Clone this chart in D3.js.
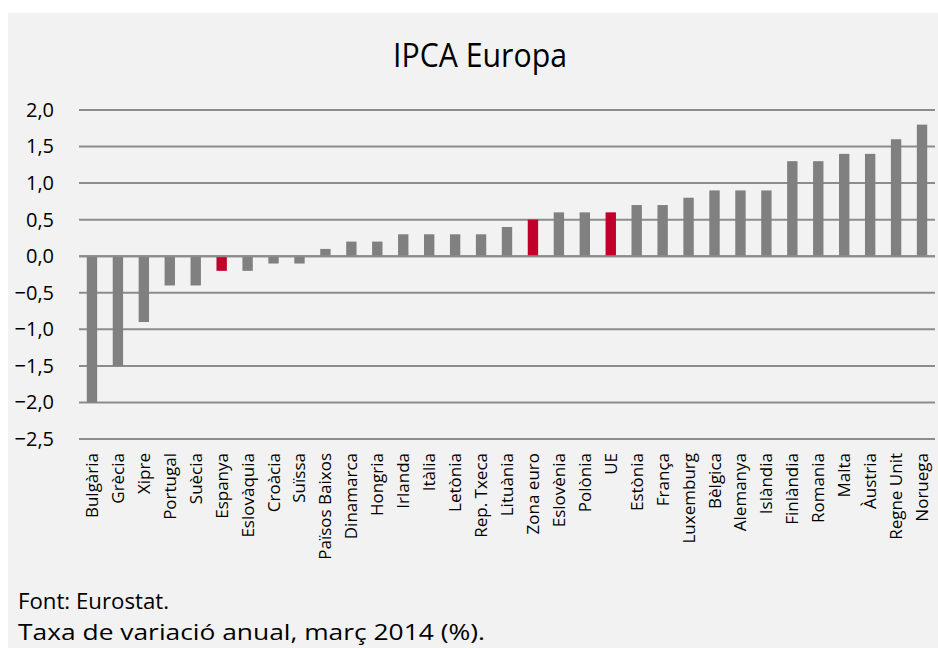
<!DOCTYPE html>
<html>
<head>
<meta charset="utf-8">
<script src="https://cdn.jsdelivr.net/npm/d3@7"></script>
<style>
  body { margin: 0; background: #fff; }
  svg text { font-family: "Open Sans", sans-serif; fill: #000; }
</style>
</head>
<body>
<div id="chart"></div>
<script>
// Taxa de variació anual de l'IPCA, març 2014 (%)
const countries = ["Bulgària", "Grècia", "Xipre", "Portugal", "Suècia", "Espanya", "Eslovàquia",
  "Croàcia", "Suïssa", "Països Baixos", "Dinamarca", "Hongria", "Irlanda", "Itàlia", "Letònia",
  "Rep. Txeca", "Lituània", "Zona euro", "Eslovènia", "Polònia", "UE", "Estònia", "França",
  "Luxemburg", "Bèlgica", "Alemanya", "Islàndia", "Finlàndia", "Romania", "Malta", "Àustria",
  "Regne Unit", "Noruega"];
const values = [-2.0, -1.5, -0.9, -0.4, -0.4, -0.2, -0.2, -0.1, -0.1, 0.1, 0.2, 0.2, 0.3, 0.3, 0.3,
  0.3, 0.4, 0.5, 0.6, 0.6, 0.6, 0.7, 0.7, 0.8, 0.9, 0.9, 0.9, 1.3, 1.3, 1.4, 1.4, 1.6, 1.8];
const highlighted = ["Espanya", "Zona euro", "UE"];
const yTicks = [-2.5, -2.0, -1.5, -1.0, -0.5, 0, 0.5, 1.0, 1.5, 2.0];

const width = 938, height = 648;
const margin = {top: 110, right: 3, bottom: 209, left: 79};

const data = countries.map((c, i) => ({name: c, value: values[i]}));

const svg = d3.select("#chart").append("svg")
    .attr("width", width)
    .attr("height", height);

// gray panel
svg.append("rect")
    .attr("x", 8).attr("y", 13)
    .attr("width", width - 8).attr("height", height - 13)
    .attr("fill", "#f2f2f2");

const x = d3.scaleBand()
    .domain(countries)
    .range([margin.left, width - margin.right])
    .paddingInner(0.6)
    .paddingOuter(0.3);

const y = d3.scaleLinear()
    .domain([-2.5, 2.0])
    .range([height - margin.bottom, margin.top]);

// gridlines
svg.append("g")
    .selectAll("line")
    .data(yTicks)
    .join("line")
    .attr("x1", margin.left)
    .attr("x2", width - margin.right)
    .attr("y1", d => y(d))
    .attr("y2", d => y(d))
    .attr("stroke", "#8c8c8c")
    .attr("stroke-width", 2);

// y axis labels
svg.append("g")
    .attr("transform", "translate(" + margin.left + ",0)")
    .call(d3.axisLeft(y)
      .tickValues(yTicks)
      .tickSize(0)
      .tickPadding(25)
      .tickFormat(d => d3.format(".1f")(d).replace(".", ",").replace("-", "–")))
    .call(g => g.select(".domain").remove())
    .selectAll("text")
    .style("font-size", "20px")
    .style("font-family", "'Open Sans', sans-serif")
    .attr("fill", "#000");

// bars
svg.append("g")
    .selectAll("rect")
    .data(data)
    .join("rect")
    .attr("x", d => x(d.name))
    .attr("width", x.bandwidth())
    .attr("y", d => y(Math.max(0, d.value)))
    .attr("height", d => Math.abs(y(d.value) - y(0)))
    .attr("fill", d => highlighted.includes(d.name) ? "#c0002b" : "#808080");

// zero line on top
svg.append("line")
    .attr("x1", margin.left)
    .attr("x2", width - margin.right)
    .attr("y1", y(0)).attr("y2", y(0))
    .attr("stroke", "#8c8c8c")
    .attr("stroke-width", 2);

// category labels
svg.append("g")
    .selectAll("text")
    .data(data)
    .join("text")
    .attr("transform", d => "translate(" + (x(d.name) + x.bandwidth() / 2 + 6) + "," + 453 + ") rotate(-90)")
    .attr("text-anchor", "end")
    .style("font-size", "17px")
    .text(d => d.name);

// title
svg.append("text")
    .attr("x", 393)
    .attr("y", 67)
    .attr("textLength", 174)
    .attr("lengthAdjust", "spacingAndGlyphs")
    .style("font-size", "33px")
    .text("IPCA Europa");

// footer
svg.append("text")
    .attr("x", 18).attr("y", 609)
    .attr("textLength", 151)
    .attr("lengthAdjust", "spacingAndGlyphs")
    .style("font-size", "21px")
    .text("Font: Eurostat.");
svg.append("text")
    .attr("x", 18).attr("y", 640)
    .attr("textLength", 467)
    .attr("lengthAdjust", "spacingAndGlyphs")
    .style("font-size", "21px")
    .text("Taxa de variació anual, març 2014 (%).");
</script>
</body>
</html>
